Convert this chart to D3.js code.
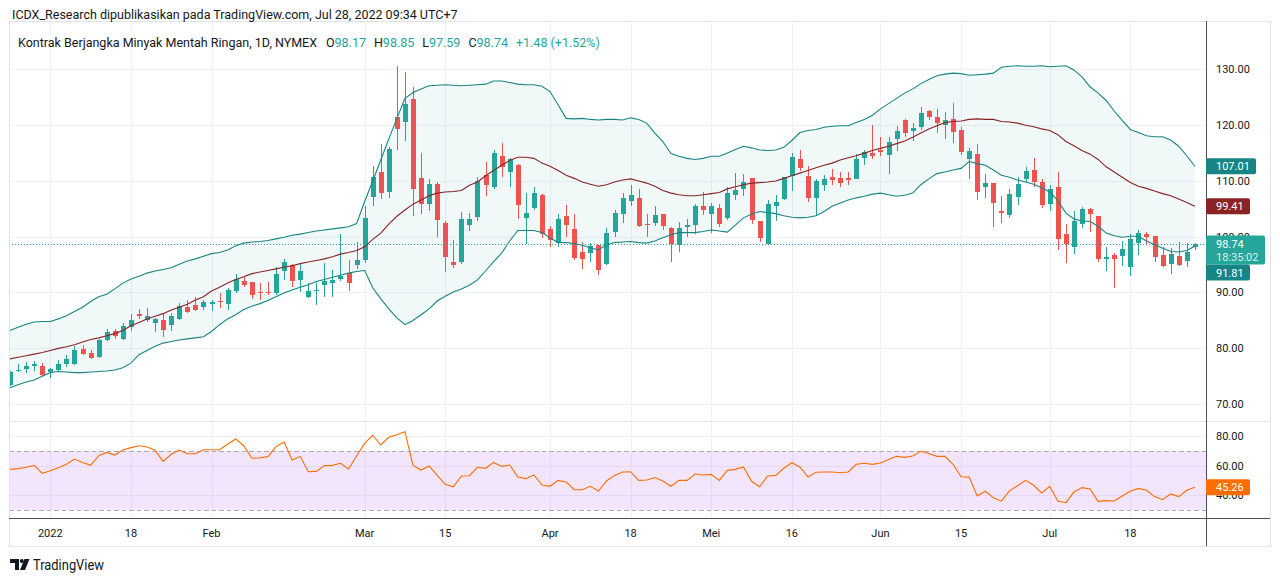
<!DOCTYPE html>
<html>
<head>
<meta charset="utf-8">
<title>Kontrak Berjangka Minyak Mentah Ringan, 1D, NYMEX</title>
<script src="https://cdn.jsdelivr.net/npm/d3@7"></script>
<style>
  html, body { margin: 0; padding: 0; background: #fff; }
  svg { display: block; font-family: Roboto, "Liberation Sans", Arial, sans-serif; }
</style>
</head>
<body>
<svg id="chart" width="1280" height="581"></svg>
<script>
var dates = [
  "2021-12-27","2021-12-28","2021-12-29","2021-12-30","2021-12-31",
  "2022-01-03","2022-01-04","2022-01-05","2022-01-06","2022-01-07","2022-01-10","2022-01-11","2022-01-12","2022-01-13","2022-01-14",
  "2022-01-18","2022-01-19","2022-01-20","2022-01-21","2022-01-24","2022-01-25","2022-01-26","2022-01-27","2022-01-28","2022-01-31",
  "2022-02-01","2022-02-02","2022-02-03","2022-02-04","2022-02-07","2022-02-08","2022-02-09","2022-02-10","2022-02-11","2022-02-14",
  "2022-02-15","2022-02-16","2022-02-17","2022-02-18","2022-02-22","2022-02-23","2022-02-24","2022-02-25","2022-02-28",
  "2022-03-01","2022-03-02","2022-03-03","2022-03-04","2022-03-07","2022-03-08","2022-03-09","2022-03-10","2022-03-11","2022-03-14",
  "2022-03-15","2022-03-16","2022-03-17","2022-03-18","2022-03-21","2022-03-22","2022-03-23","2022-03-24","2022-03-25","2022-03-28",
  "2022-03-29","2022-03-30","2022-03-31",
  "2022-04-01","2022-04-04","2022-04-05","2022-04-06","2022-04-07","2022-04-08","2022-04-11","2022-04-12","2022-04-13","2022-04-14",
  "2022-04-18","2022-04-19","2022-04-20","2022-04-21","2022-04-22","2022-04-25","2022-04-26","2022-04-27","2022-04-28","2022-04-29",
  "2022-05-02","2022-05-03","2022-05-04","2022-05-05","2022-05-06","2022-05-09","2022-05-10","2022-05-11","2022-05-12","2022-05-13",
  "2022-05-16","2022-05-17","2022-05-18","2022-05-19","2022-05-20","2022-05-23","2022-05-24","2022-05-25","2022-05-26","2022-05-27",
  "2022-05-31",
  "2022-06-01","2022-06-02","2022-06-03","2022-06-06","2022-06-07","2022-06-08","2022-06-09","2022-06-10","2022-06-13","2022-06-14",
  "2022-06-15","2022-06-16","2022-06-17","2022-06-21","2022-06-22","2022-06-23","2022-06-24","2022-06-27","2022-06-28","2022-06-29",
  "2022-06-30",
  "2022-07-01","2022-07-05","2022-07-06","2022-07-07","2022-07-08","2022-07-11","2022-07-12","2022-07-13","2022-07-14","2022-07-15",
  "2022-07-18","2022-07-19","2022-07-20","2022-07-21","2022-07-22","2022-07-25","2022-07-26","2022-07-27","2022-07-28"
];

var open = [
  73.4, 75.9, 76.2, 76.7, 76.8, 75.7, 76.1, 77.1, 77.1, 79.8,
  79.1, 78.4, 81.4, 83.1, 81.6, 83.8, 86.1, 85.0, 84.5, 85.0,
  84.1, 85.2, 87.4, 87.7, 87.4, 88.0, 88.5, 87.9, 90.1, 92.1,
  91.8, 90.1, 90.1, 89.9, 93.9, 94.9, 92.2, 89.2, 90.2, 91.3,
  91.7, 92.3, 93.4, 94.9, 95.9, 107.1, 111.5, 107.9, 121.5, 120.6,
  124.7, 110.5, 105.9, 109.4, 102.5, 95.5, 95.3, 102.1, 103.6, 111.0,
  108.8, 114.4, 111.6, 112.9, 103.4, 105.2, 107.4, 101.3, 98.9, 103.7,
  101.3, 97.2, 97.1, 98.5, 95.1, 100.9, 104.2, 106.4, 107.0, 102.3,
  102.3, 104.1, 101.5, 98.6, 101.8, 102.1, 105.4, 103.9, 105.2, 103.4,
  107.4, 108.5, 110.5, 102.8, 98.6, 105.5, 106.6, 110.9, 113.9, 110.9,
  107.0, 109.2, 110.7, 110.5, 110.5, 110.5, 114.1, 114.9, 115.5, 114.6,
  117.5, 120.9, 119.0, 119.7, 122.6, 121.5, 120.0, 121.1, 119.1, 113.9,
  114.8, 108.8, 109.6, 104.6, 103.9, 107.2, 110.3, 111.9, 109.7, 105.8,
  108.8, 100.4, 98.2, 102.2, 104.9, 103.6, 95.9, 96.7, 96.4, 94.5,
  98.9, 100.4, 100.1, 96.7, 95.1, 96.5, 95.7, 98.17
];
var high = [
  75.9, 77.1, 77.5, 77.7, 77.4, 76.5, 77.9, 78.7, 80.4, 80.5,
  79.6, 81.6, 83.4, 83.5, 84.5, 86.1, 87.0, 87.1, 85.4, 86.3,
  86.3, 88.1, 88.6, 89.2, 88.6, 88.7, 89.9, 90.7, 93.3, 92.9,
  91.9, 91.7, 91.8, 94.6, 96.0, 95.0, 95.1, 91.6, 91.6, 95.2,
  94.0, 100.5, 95.8, 99.1, 105.4, 112.6, 116.6, 116.1, 130.6, 129.5,
  126.8, 115.0, 110.3, 109.7, 102.7, 99.4, 104.4, 104.3, 110.6, 113.3,
  115.5, 116.8, 114.1, 113.0, 107.9, 108.8, 107.7, 101.9, 104.0, 105.6,
  104.0, 99.0, 98.8, 98.5, 101.6, 104.7, 107.9, 109.2, 108.5, 104.0,
  105.5, 104.1, 101.8, 102.6, 103.1, 105.8, 108.0, 106.1, 105.9, 108.9,
  111.4, 111.2, 110.5, 102.8, 106.5, 107.4, 110.7, 115.0, 115.6, 112.6,
  110.4, 111.0, 112.1, 111.6, 111.6, 114.8, 115.5, 120.0, 117.8, 117.8,
  119.8, 121.1, 120.4, 123.3, 122.7, 122.9, 122.4, 123.9, 119.7, 115.8,
  116.6, 111.2, 109.6, 107.2, 108.6, 110.7, 112.4, 114.1, 110.4, 109.2,
  111.5, 102.2, 104.6, 105.3, 105.2, 103.6, 98.1, 97.1, 99.2, 100.5,
  101.2, 100.8, 100.1, 98.1, 97.9, 99.0, 98.9, 98.85
];
var low = [
  73.2, 75.7, 75.6, 75.8, 74.9, 74.6, 75.9, 76.6, 76.9, 78.8,
  78.0, 78.2, 81.2, 81.6, 81.4, 83.1, 85.2, 84.6, 82.9, 82.0,
  83.1, 85.0, 86.3, 86.7, 86.9, 86.7, 87.2, 86.8, 89.9, 90.9,
  88.8, 88.6, 89.5, 89.6, 92.2, 90.9, 90.1, 89.0, 87.7, 89.2,
  89.2, 92.0, 90.3, 94.2, 95.3, 105.4, 106.7, 107.0, 115.5, 117.1,
  103.7, 104.1, 104.6, 100.0, 93.7, 94.3, 95.1, 101.0, 102.7, 107.3,
  108.5, 110.7, 108.8, 103.1, 98.7, 104.8, 99.8, 98.1, 98.1, 100.0,
  95.8, 94.1, 95.5, 93.1, 94.9, 100.0, 102.4, 105.5, 101.8, 100.0,
  101.9, 101.2, 95.5, 97.3, 100.0, 100.5, 103.9, 100.6, 101.8, 103.0,
  106.6, 107.3, 102.3, 99.1, 98.4, 102.8, 106.5, 108.2, 111.7, 106.2,
  103.6, 108.2, 109.2, 108.8, 109.2, 110.3, 112.8, 114.0, 114.5, 111.3,
  115.4, 117.8, 117.2, 119.2, 120.9, 118.5, 117.5, 116.7, 114.6, 110.4,
  106.6, 107.0, 101.8, 102.4, 103.3, 105.6, 109.7, 108.9, 105.1, 104.6,
  97.6, 95.3, 96.8, 101.6, 100.9, 95.4, 93.9, 90.8, 94.7, 93.0,
  96.7, 98.4, 95.4, 94.5, 93.3, 94.7, 94.5, 97.59
];
var close = [
  75.7, 76.1, 76.8, 77.1, 75.2, 76.3, 77.1, 78.0, 79.6, 78.9,
  78.2, 81.4, 82.9, 82.2, 84.0, 85.0, 85.7, 85.7, 85.2, 83.2,
  85.7, 87.5, 86.5, 86.8, 88.3, 88.3, 88.3, 90.4, 92.3, 91.3,
  89.4, 89.9, 89.9, 93.3, 95.5, 92.1, 93.8, 90.3, 90.4, 92.1,
  92.2, 92.9, 91.6, 95.8, 103.4, 110.7, 107.7, 115.7, 119.3, 123.8,
  108.6, 105.8, 109.4, 103.0, 96.4, 95.0, 103.1, 103.1, 110.0, 109.2,
  114.9, 112.4, 113.9, 105.8, 104.3, 107.9, 100.4, 99.4, 103.2, 102.0,
  96.1, 96.0, 98.3, 94.1, 100.6, 104.3, 107.0, 107.5, 102.0, 102.2,
  103.8, 102.0, 98.6, 101.6, 102.1, 105.5, 104.6, 105.4, 102.3, 107.8,
  108.3, 109.8, 103.0, 99.8, 105.8, 106.2, 110.6, 114.3, 112.3, 107.0,
  110.0, 110.3, 110.1, 109.6, 110.2, 114.0, 115.1, 114.3, 115.1, 117.0,
  118.9, 118.5, 119.5, 122.2, 121.5, 120.5, 120.9, 118.8, 115.2, 115.4,
  107.9, 109.6, 106.1, 104.3, 107.6, 109.5, 111.8, 109.7, 105.6, 108.5,
  99.4, 98.6, 102.8, 104.9, 104.0, 95.8, 96.3, 95.9, 97.7, 99.5,
  100.7, 99.8, 96.4, 94.8, 96.9, 94.9, 97.26, 98.74
];

// Bollinger Bands (20, 2), on their own overlay scale
var bbUpper = [
  75.8, 76.4, 77.0, 77.4, 77.5, 77.5, 78.0, 78.6, 79.4, 80.2,
  81.3, 82.2, 82.7, 83.7, 84.8, 85.6, 86.1, 86.7, 87.1, 87.4,
  87.7, 88.4, 89.0, 89.4, 89.9, 90.4, 90.6, 91.1, 91.9, 92.4,
  92.6, 92.7, 92.9, 93.2, 93.5, 93.9, 94.1, 94.4, 94.7, 94.9,
  95.1, 95.3, 95.5, 96.1, 100.3, 104.2, 108.2, 112.2, 116.1, 119.9,
  121.0, 121.7, 122.3, 122.4, 122.5, 122.4, 122.3, 122.4, 122.5, 122.6,
  123.2, 123.2, 122.9, 122.6, 122.5, 122.5, 122.2, 121.2, 118.7, 116.1,
  116.0, 116.1, 115.9, 115.8, 115.9, 115.9, 115.8, 116.2, 115.9, 115.2,
  113.3, 111.7, 109.4, 108.9, 108.5, 108.3, 108.5, 108.9, 108.9, 109.5,
  110.2, 110.8, 110.5, 110.1, 110.0, 110.1, 110.6, 111.9, 113.4, 113.8,
  114.0, 114.4, 114.6, 114.7, 114.7, 115.3, 115.9, 116.7, 117.9, 118.9,
  119.9, 120.9, 121.7, 122.7, 123.5, 124.2, 124.5, 124.7, 124.6, 124.3,
  124.4, 124.5, 124.7, 125.8, 126.0, 126.1, 126.0, 126.0, 126.1, 125.9,
  126.0, 126.1, 125.3, 124.0, 122.1, 120.9, 119.5, 117.5, 115.7, 114.0,
  113.4, 112.8, 112.6, 112.6, 112.0, 110.8, 109.0, 107.01
];
var bbBasis = [
  70.4, 70.7, 71.0, 71.3, 71.6, 72.0, 72.4, 72.7, 73.1, 73.6,
  74.1, 74.4, 74.8, 75.2, 75.8, 76.7, 77.3, 78.0, 78.5, 79.0,
  79.7, 80.2, 80.8, 81.6, 82.2, 83.3, 84.0, 84.8, 85.5, 86.0,
  86.6, 86.9, 87.2, 87.5, 87.8, 88.1, 88.5, 88.8, 89.1, 89.4,
  89.8, 90.3, 90.6, 91.0, 91.7, 93.1, 94.3, 96.0, 97.5, 98.7,
  99.8, 100.6, 101.4, 101.9, 102.1, 102.2, 102.4, 103.4, 104.0, 105.2,
  106.2, 107.2, 108.1, 108.7, 108.7, 108.5, 107.6, 107.0, 106.2, 105.3,
  104.7, 104.0, 103.6, 103.2, 103.5, 104.0, 104.4, 104.6, 104.2, 103.8,
  103.2, 102.4, 101.9, 101.6, 101.4, 101.4, 101.6, 101.8, 102.0, 102.7,
  103.1, 103.5, 103.8, 103.9, 104.0, 104.2, 104.7, 105.2, 105.7, 106.2,
  106.7, 107.2, 107.6, 108.2, 108.6, 109.0, 109.5, 110.0, 110.4, 110.8,
  111.3, 111.8, 112.5, 113.3, 114.1, 114.7, 115.3, 115.5, 115.6, 115.9,
  116.0, 115.9, 115.9, 115.5, 115.4, 115.2, 114.8, 114.5, 114.1, 113.8,
  113.0, 111.7, 110.9, 110.0, 109.3, 108.3, 106.9, 105.9, 104.9, 103.9,
  103.2, 102.8, 102.3, 101.8, 101.4, 100.8, 100.1, 99.41
];
var bbLower = [
  64.9, 65.5, 66.0, 66.4, 67.1, 67.8, 68.0, 67.9, 67.8, 67.8,
  67.9, 68.0, 68.1, 68.3, 68.7, 69.6, 71.2, 72.0, 72.8, 73.4,
  73.7, 74.0, 74.2, 74.4, 74.6, 75.6, 76.9, 78.0, 78.8, 79.8,
  80.4, 80.9, 81.5, 82.2, 82.9, 83.5, 84.0, 84.5, 85.1, 85.5,
  85.9, 86.3, 86.7, 87.0, 87.2, 83.9, 81.8, 79.9, 78.2, 76.9,
  77.7, 78.8, 79.9, 81.4, 82.3, 83.1, 83.7, 84.4, 85.4, 87.1,
  88.9, 90.5, 92.8, 94.8, 94.8, 94.8, 94.4, 93.4, 92.5, 92.5,
  92.3, 92.0, 91.5, 91.1, 92.1, 92.5, 92.6, 92.7, 92.5, 92.4,
  92.8, 93.4, 94.0, 94.4, 94.4, 94.4, 94.6, 94.9, 94.7, 94.5,
  95.8, 97.2, 97.9, 98.4, 98.2, 98.0, 97.6, 97.3, 97.2, 97.3,
  97.6, 98.4, 99.4, 100.0, 100.6, 101.0, 101.3, 101.7, 101.9, 101.6,
  101.3, 101.5, 101.9, 103.5, 104.6, 105.6, 105.9, 106.3, 106.6, 107.9,
  107.5, 107.2, 106.3, 105.3, 104.9, 104.4, 104.0, 103.6, 102.9, 102.1,
  100.5, 98.1, 97.0, 96.6, 96.5, 95.6, 94.3, 93.8, 93.5, 93.7,
  93.7, 92.8, 92.1, 91.4, 90.8, 90.7, 91.0, 91.81
];

// RSI (14)
var rsi = [
  57.4, 57.9, 58.8, 60.1, 54.7, 56.5, 58.5, 60.8, 64.4, 62.1,
  60.1, 66.7, 68.9, 67.1, 70.5, 72.1, 73.4, 72.5, 70.3, 62.8,
  67.6, 70.5, 68.0, 68.0, 70.7, 70.7, 70.7, 74.4, 78.0, 73.4,
  64.9, 65.3, 66.0, 72.8, 75.9, 63.7, 66.2, 55.8, 56.0, 59.9,
  60.1, 61.5, 57.6, 66.4, 75.0, 80.5, 73.9, 79.1, 80.9, 82.9,
  60.1, 56.9, 59.7, 53.3, 47.2, 45.6, 52.9, 53.1, 58.8, 58.1,
  62.1, 59.4, 60.3, 52.2, 51.1, 53.6, 46.8, 45.9, 49.9, 48.8,
  43.6, 43.6, 45.9, 42.7, 49.5, 53.3, 55.6, 55.8, 49.9, 50.2,
  51.8, 49.5, 45.9, 49.9, 49.9, 54.2, 53.6, 54.0, 49.9, 56.7,
  57.4, 59.0, 49.3, 45.6, 52.9, 53.3, 58.1, 61.9, 59.0, 52.2,
  55.4, 55.6, 55.6, 55.1, 55.6, 60.8, 61.5, 60.8, 61.7, 64.0,
  66.2, 65.5, 66.4, 69.6, 68.2, 66.2, 66.2, 60.8, 52.4, 52.1,
  39.3, 42.6, 38.2, 35.8, 42.8, 46.3, 49.9, 46.6, 41.4, 45.9,
  35.9, 34.8, 42.0, 45.0, 44.1, 35.7, 36.2, 35.9, 39.3, 42.5,
  44.5, 43.2, 38.9, 36.8, 40.7, 38.9, 43.2, 45.26
];

var tickDates = ["2022-01-03","2022-01-18","2022-02-01","2022-03-01","2022-03-15","2022-04-01",
                 "2022-04-18","2022-05-02","2022-05-16","2022-06-01","2022-06-15","2022-07-01","2022-07-18"];
var tickLabels = ["2022","18","Feb","Mar","15","Apr","18","Mei","16","Jun","15","Jul","18"];
var priceTicks = [70, 80, 90, 100, 110, 120, 130];
var rsiTicks = [40, 60, 80];
var rsiLimits = [70, 30];
var countdown = "18:35:02";

var header = "ICDX_Research dipublikasikan pada TradingView.com, Jul 28, 2022 09:34 UTC+7";
var title = "Kontrak Berjangka Minyak Mentah Ringan, 1D, NYMEX";

// ---- layout ----
var left = 9, right = 1206, frameRight = 1270,
    mainTop = 21, mainBottom = 421, rsiTop = 422, rsiBottom = 518, frameBottom = 546,
    barStep = 8.06, firstBar = 10;

var up = "#26a69a", down = "#ef5350", ink = "#131722",
    gridColor = "#eef1f6", frameColor = "#e0e3eb", axisColor = "#4c4f59",
    bandColor = "#178585", basisColor = "#8a2323", rsiColor = "#ff6d00";

var n = dates.length, last = n - 1;
var fmt = d3.format(".2f");

var svg = d3.select("#chart");
svg.append("rect").attr("width", 1280).attr("height", 581).attr("fill", "#fff");

var x = d3.scaleBand()
    .domain(dates)
    .range([firstBar - barStep / 2, firstBar - barStep / 2 + n * barStep]);
var cx = function(d) { return x(d) + x.bandwidth() / 2; };

var y = d3.scaleLinear().domain([70, 130]).range([403.8, 69.3]);
var yBand = d3.scaleLinear().domain([58.6, 134.6]).range([mainBottom, mainTop]);
var yRsi = d3.scaleLinear().domain([30, 70]).range([509.75, 450.75]);

var crisp = function(v) { return Math.round(v) + 0.5; };

var defs = svg.append("defs");
defs.append("clipPath").attr("id", "clipMain").append("rect")
    .attr("x", left).attr("y", mainTop).attr("width", right - left).attr("height", mainBottom - mainTop);
defs.append("clipPath").attr("id", "clipRsi").append("rect")
    .attr("x", left).attr("y", rsiTop).attr("width", right - left).attr("height", rsiBottom - rsiTop);

// ---- grid ----
var grid = svg.append("g").attr("stroke", gridColor).attr("shape-rendering", "crispEdges");
grid.selectAll("line.v").data(tickDates).enter().append("line")
    .attr("x1", function(d) { return crisp(cx(d)); })
    .attr("x2", function(d) { return crisp(cx(d)); })
    .attr("y1", mainTop).attr("y2", rsiBottom);
grid.selectAll("line.h").data(priceTicks).enter().append("line")
    .attr("x1", left).attr("x2", right)
    .attr("y1", function(d) { return crisp(y(d)); })
    .attr("y2", function(d) { return crisp(y(d)); });
grid.selectAll("line.r").data(rsiTicks).enter().append("line")
    .attr("x1", left).attr("x2", right)
    .attr("y1", function(d) { return crisp(yRsi(d)); })
    .attr("y2", function(d) { return crisp(yRsi(d)); });

// ---- main pane ----
var plot = svg.append("g").attr("clip-path", "url(#clipMain)");

var bandArea = d3.area()
    .x(function(d, i) { return cx(dates[i]); })
    .y0(function(d, i) { return yBand(bbLower[i]); })
    .y1(function(d) { return yBand(d); });
plot.append("path").datum(bbUpper)
    .attr("d", bandArea)
    .attr("fill", "rgba(19,132,132,0.06)");

var bars = dates.map(function(d, i) {
  return { date: d, o: open[i], h: high[i], l: low[i], c: close[i] };
});
var bodyW = Math.max(1, Math.round(x.bandwidth() * 0.62));

var candle = plot.selectAll("g.candle").data(bars).enter().append("g")
    .attr("class", "candle")
    .attr("shape-rendering", "crispEdges");
candle.append("line")
    .attr("x1", function(d) { return crisp(cx(d.date)); })
    .attr("x2", function(d) { return crisp(cx(d.date)); })
    .attr("y1", function(d) { return y(d.h); })
    .attr("y2", function(d) { return y(d.l); })
    .attr("stroke", function(d) { return d.c >= d.o ? up : down; });
candle.append("rect")
    .attr("x", function(d) { return Math.round(cx(d.date)) - (bodyW - 1) / 2; })
    .attr("width", bodyW)
    .attr("y", function(d) { return Math.round(y(Math.max(d.o, d.c))); })
    .attr("height", function(d) { return Math.max(1, Math.round(Math.abs(y(d.o) - y(d.c)))); })
    .attr("fill", function(d) { return d.c >= d.o ? up : down; });

var bandLine = d3.line()
    .x(function(d, i) { return cx(dates[i]); })
    .y(function(d) { return yBand(d); });
[[bbUpper, bandColor], [bbLower, bandColor], [bbBasis, basisColor]].forEach(function(s) {
  plot.append("path").datum(s[0])
      .attr("d", bandLine)
      .attr("fill", "none")
      .attr("stroke", s[1])
      .attr("stroke-width", 1.1);
});

// last price line
plot.append("line")
    .attr("x1", left).attr("x2", right)
    .attr("y1", crisp(y(close[last]))).attr("y2", crisp(y(close[last])))
    .attr("stroke", up).attr("stroke-dasharray", "1,2");

// ---- RSI pane ----
var rsiG = svg.append("g").attr("clip-path", "url(#clipRsi)");
rsiG.append("rect")
    .attr("x", left).attr("width", right - left)
    .attr("y", yRsi(rsiLimits[0])).attr("height", yRsi(rsiLimits[1]) - yRsi(rsiLimits[0]))
    .attr("fill", "rgba(140,20,230,0.105)");
rsiG.selectAll("line.lim").data(rsiLimits).enter().append("line")
    .attr("x1", left).attr("x2", right)
    .attr("y1", function(d) { return crisp(yRsi(d)); })
    .attr("y2", function(d) { return crisp(yRsi(d)); })
    .attr("stroke", "#a9abb3")
    .attr("stroke-dasharray", "4.5,3")
    .attr("shape-rendering", "crispEdges");
rsiG.append("path").datum(rsi)
    .attr("d", d3.line()
      .x(function(d, i) { return cx(dates[i]); })
      .y(function(d) { return yRsi(d); }))
    .attr("fill", "none")
    .attr("stroke", rsiColor)
    .attr("stroke-width", 1.1);

// ---- frame ----
var frame = svg.append("g").attr("shape-rendering", "crispEdges").attr("fill", "none");
frame.append("rect")
    .attr("x", left + 0.5).attr("y", mainTop + 0.5)
    .attr("width", frameRight - left).attr("height", frameBottom - mainTop)
    .attr("stroke", frameColor);
frame.append("line")
    .attr("x1", left).attr("x2", frameRight)
    .attr("y1", mainBottom + 0.5).attr("y2", mainBottom + 0.5)
    .attr("stroke", frameColor);
frame.append("line")
    .attr("x1", left).attr("x2", frameRight)
    .attr("y1", rsiBottom + 0.5).attr("y2", rsiBottom + 0.5)
    .attr("stroke", axisColor);
frame.append("line")
    .attr("x1", right + 0.5).attr("x2", right + 0.5)
    .attr("y1", mainTop).attr("y2", frameBottom)
    .attr("stroke", axisColor);

// ---- axes ----
function styleAxis(g) {
  g.select(".domain").remove();
  g.attr("font-family", null).attr("font-size", 11).attr("color", ink);
}
svg.append("g")
    .attr("transform", "translate(" + right + ",0)")
    .call(d3.axisRight(y).tickValues(priceTicks).tickFormat(fmt).tickSize(0).tickPadding(10))
    .call(styleAxis);
svg.append("g")
    .attr("transform", "translate(" + right + ",0)")
    .call(d3.axisRight(yRsi).tickValues(rsiTicks).tickFormat(fmt).tickSize(0).tickPadding(10))
    .call(styleAxis);
svg.append("g")
    .attr("transform", "translate(0," + rsiBottom + ")")
    .call(d3.axisBottom(x).tickValues(tickDates)
      .tickFormat(function(d) { return tickLabels[tickDates.indexOf(d)]; })
      .tickSize(0).tickPadding(11))
    .call(styleAxis);

// ---- value tags on the price axis ----
var tags = [
  { py: yBand(bbUpper[last]), bg: bandColor, lines: [fmt(bbUpper[last])] },
  { py: yBand(bbBasis[last]), bg: basisColor, lines: [fmt(bbBasis[last])] },
  { py: y(close[last]), bg: up, lines: [fmt(close[last]), countdown] },
  { py: yBand(bbLower[last]), bg: bandColor, lines: [fmt(bbLower[last])] }
];
tags.forEach(function(t) { t.h = 16 + (t.lines.length - 1) * 13; t.top = t.py - 8; });
tags.sort(function(a, b) { return a.top - b.top; });
for (var k = 1; k < tags.length; k++) {
  var prev = tags[k - 1];
  if (tags[k].top < prev.top + prev.h) tags[k].top = prev.top + prev.h;
}
tags.push({ top: yRsi(rsi[last]) - 8, h: 16, bg: rsiColor, lines: [fmt(rsi[last])] });

tags.forEach(function(t) {
  var g = svg.append("g").attr("transform", "translate(" + right + "," + t.top + ")");
  var box = g.append("rect").attr("height", t.h).attr("rx", 2).attr("fill", t.bg);
  var w = 0;
  t.lines.forEach(function(s, j) {
    var txt = g.append("text")
        .attr("x", 10).attr("y", 12 + j * 13)
        .attr("font-size", 11).attr("fill", "#fff")
        .attr("fill-opacity", j ? 0.85 : 1)
        .text(s);
    w = Math.max(w, txt.node().getComputedTextLength());
  });
  box.attr("width", Math.ceil(w) + 16);
});

// ---- header, legend, logo ----
svg.append("text")
    .attr("x", 12).attr("y", 19)
    .attr("font-size", 12.5).attr("fill", ink)
    .text(header);

var legend = svg.append("text")
    .attr("x", 18).attr("y", 46.5)
    .attr("font-size", 12.5).attr("fill", ink);
legend.append("tspan").text(title);
[["O", open[last]], ["H", high[last]], ["L", low[last]], ["C", close[last]]].forEach(function(it, j) {
  legend.append("tspan").attr("dx", j === 0 ? 9 : 8).text(it[0]);
  legend.append("tspan").attr("fill", up).text(fmt(it[1]));
});
var chg = close[last] - close[last - 1];
legend.append("tspan").attr("dx", 8).attr("fill", up)
    .text(d3.format("+.2f")(chg) + " (" + d3.format("+.2f")(chg / close[last - 1] * 100) + "%)");

var logo = svg.append("g").attr("fill", ink);
logo.append("path").attr("d", "M10,559H19V570H15V563H10Z");
logo.append("circle").attr("cx", 21.8).attr("cy", 561).attr("r", 2);
logo.append("path").attr("d", "M24.5,559H29.5L25,570H20Z");
logo.append("text")
    .attr("x", 33).attr("y", 569.5)
    .attr("font-size", 14.5)
    .attr("textLength", 71).attr("lengthAdjust", "spacingAndGlyphs")
    .text("TradingView");
</script>
</body>
</html>
